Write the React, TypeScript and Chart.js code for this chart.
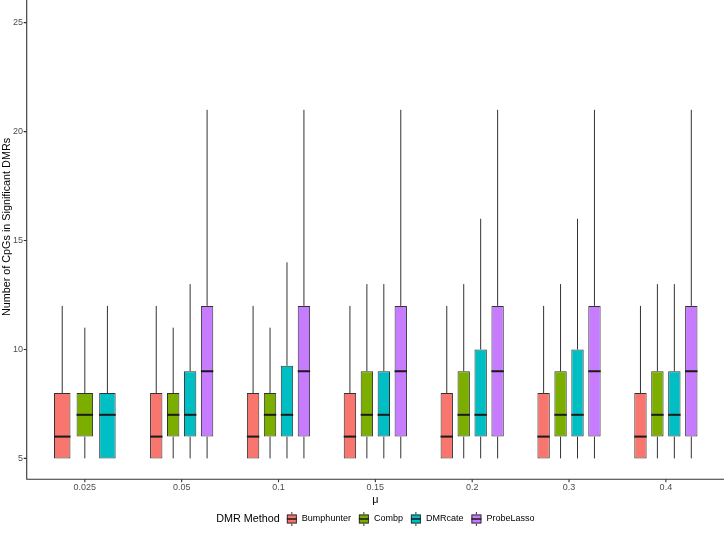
import React, { useEffect, useRef } from 'react';
import { Chart, registerables } from 'chart.js';

Chart.register(...registerables);

const FONT = '"Liberation Sans", Arial, Helvetica, sans-serif';
const INK = '#333333';

const categories = ['0.025', '0.05', '0.1', '0.15', '0.2', '0.3', '0.4'];
const methods = ['Bumphunter', 'Combp', 'DMRcate', 'ProbeLasso'];
const methodColors = ['#F8766D', '#7CAE00', '#00BFC4', '#C77CFF'];

// each entry: [lower whisker, Q1, median, Q3, upper whisker]
const bumphunter: (number[] | null)[] = [
  [5, 5, 6, 8, 12], [5, 5, 6, 8, 12], [5, 5, 6, 8, 12], [5, 5, 6, 8, 12],
  [5, 5, 6, 8, 12], [5, 5, 6, 8, 12], [5, 5, 6, 8, 12],
];
const combp: (number[] | null)[] = [
  [5, 6, 7, 8, 11], [5, 6, 7, 8, 11], [5, 6, 7, 8, 11], [5, 6, 7, 9, 13],
  [5, 6, 7, 9, 13], [5, 6, 7, 9, 13], [5, 6, 7, 9, 13],
];
const dmrcate: (number[] | null)[] = [
  [5, 5, 7, 8, 12], [5, 6, 7, 9, 13], [5, 6, 7, 9.25, 14], [5, 6, 7, 9, 13],
  [5, 6, 7, 10, 16], [5, 6, 7, 10, 16], [5, 6, 7, 9, 13],
];
const probeLasso: (number[] | null)[] = [
  null, [5, 6, 9, 12, 21], [5, 6, 9, 12, 21], [5, 6, 9, 12, 21],
  [5, 6, 9, 12, 21], [5, 6, 9, 12, 21], [5, 6, 9, 12, 21],
];
const seriesStats = [bumphunter, combp, dmrcate, probeLasso];

const yTicks = [5, 10, 15, 20, 25];
const yTitle = 'Number of CpGs in Significant DMRs';
const xTitle = 'μ';
const legendTitle = 'DMR Method';

const ggPlugin = {
  id: 'ggBoxplot',
  beforeDatasetsDraw(chart: any) {
    const { ctx } = chart;
    const y = chart.scales.y;
    ctx.save();
    ctx.strokeStyle = INK;
    ctx.lineWidth = 1;
    chart.data.datasets.forEach((ds: any, di: number) => {
      const meta = chart.getDatasetMeta(di);
      ds.stats.forEach((s: number[] | null, i: number) => {
        if (!s) return;
        const el = meta.data[i];
        if (!el) return;
        const px = el.x;
        ctx.beginPath();
        ctx.moveTo(px, y.getPixelForValue(s[4]));
        ctx.lineTo(px, y.getPixelForValue(s[3]));
        ctx.moveTo(px, y.getPixelForValue(s[1]));
        ctx.lineTo(px, y.getPixelForValue(s[0]));
        ctx.stroke();
      });
    });
    ctx.restore();
  },
  afterDatasetsDraw(chart: any) {
    const { ctx } = chart;
    const y = chart.scales.y;
    ctx.save();
    ctx.strokeStyle = '#1a1a1a';
    ctx.lineWidth = 2;
    chart.data.datasets.forEach((ds: any, di: number) => {
      const meta = chart.getDatasetMeta(di);
      ds.stats.forEach((s: number[] | null, i: number) => {
        if (!s) return;
        const el = meta.data[i];
        if (!el) return;
        const py = y.getPixelForValue(s[2]);
        ctx.beginPath();
        ctx.moveTo(el.x - el.width / 2, py);
        ctx.lineTo(el.x + el.width / 2, py);
        ctx.stroke();
      });
    });
    ctx.restore();
  },
  afterDraw(chart: any) {
    const { ctx, chartArea } = chart;
    const x = chart.scales.x;
    const y = chart.scales.y;
    const unit = x.getPixelForValue(1) - x.getPixelForValue(0);
    const L = chartArea.left - 0.1 * unit;
    const R = chartArea.right + 0.1 * unit;
    const B = chartArea.bottom;
    ctx.save();
    ctx.strokeStyle = INK;
    ctx.lineWidth = 1.1;
    ctx.beginPath();
    ctx.moveTo(L, 0);
    ctx.lineTo(L, B);
    ctx.lineTo(R, B);
    ctx.stroke();
    ctx.beginPath();
    yTicks.forEach((v) => {
      const py = y.getPixelForValue(v);
      ctx.moveTo(L - 3, py);
      ctx.lineTo(L, py);
    });
    categories.forEach((_, i) => {
      const px = x.getPixelForValue(i);
      ctx.moveTo(px, B);
      ctx.lineTo(px, B + 3);
    });
    ctx.stroke();

    // axis titles
    ctx.fillStyle = '#000000';
    ctx.font = `10.8px ${FONT}`;
    ctx.textAlign = 'center';
    ctx.textBaseline = 'middle';
    ctx.fillText(xTitle, (L + R) / 2, 500);
    ctx.save();
    ctx.translate(7, 227);
    ctx.rotate(-Math.PI / 2);
    ctx.fillText(yTitle, 0, 0);
    ctx.restore();

    // legend
    const ly = 519;
    ctx.font = `10.8px ${FONT}`;
    const titleW = ctx.measureText(legendTitle).width;
    ctx.font = `9px ${FONT}`;
    const labelWs = methods.map((m) => ctx.measureText(m).width);
    const keyW = 10, g1 = 7, g2 = 5, g3 = 8;
    let total = titleW + g1;
    labelWs.forEach((w, i) => { total += keyW + g2 + w + (i < labelWs.length - 1 ? g3 : 0); });
    let cx = (L + R) / 2 - total / 2;
    ctx.textAlign = 'left';
    ctx.font = `10.8px ${FONT}`;
    ctx.fillText(legendTitle, cx, ly);
    cx += titleW + g1;
    methods.forEach((m, i) => {
      const top = ly - 4.5, h = 9;
      ctx.strokeStyle = INK;
      ctx.lineWidth = 1;
      ctx.beginPath();
      ctx.moveTo(cx + keyW / 2, top - 2.5);
      ctx.lineTo(cx + keyW / 2, top);
      ctx.moveTo(cx + keyW / 2, top + h);
      ctx.lineTo(cx + keyW / 2, top + h + 2.5);
      ctx.stroke();
      ctx.fillStyle = methodColors[i];
      ctx.fillRect(cx, top, keyW, h);
      ctx.strokeRect(cx + 0.5, top + 0.5, keyW - 1, h - 1);
      ctx.beginPath();
      ctx.lineWidth = 1.5;
      ctx.strokeStyle = '#1a1a1a';
      ctx.moveTo(cx, ly);
      ctx.lineTo(cx + keyW, ly);
      ctx.stroke();
      cx += keyW + g2;
      ctx.fillStyle = '#000000';
      ctx.font = `9px ${FONT}`;
      ctx.fillText(m, cx, ly);
      cx += labelWs[i] + g3;
    });
    ctx.restore();
  },
};

export default function App() {
  const ref = useRef<HTMLCanvasElement>(null);
  useEffect(() => {
    if (!ref.current) return;
    Chart.defaults.font.family = FONT;
    const chart = new Chart(ref.current, {
      type: 'bar',
      data: {
        labels: categories,
        datasets: methods.map((m, k) => ({
          label: m,
          data: seriesStats[k].map((s) => (s ? [s[1], s[3]] : null)),
          stats: seriesStats[k],
          backgroundColor: methodColors[k],
          borderColor: INK,
          borderWidth: 1,
          borderSkipped: false,
          categoryPercentage: 0.7,
          barPercentage: 0.73,
          skipNull: true,
        })) as any,
      },
      options: {
        responsive: false,
        animation: false,
        devicePixelRatio: 1,
        layout: { padding: { left: 0, right: 10.7, top: 0, bottom: 0 } },
        plugins: { legend: { display: false }, tooltip: { enabled: false } },
        scales: {
          x: {
            type: 'category',
            offset: true,
            grid: { display: false, drawTicks: false },
            border: { display: false },
            ticks: { color: '#4d4d4d', font: { size: 9, family: FONT }, padding: 3, maxRotation: 0, autoSkip: false },
            afterFit(s: any) { s.height = 56.7; s.paddingLeft = 0; s.paddingRight = 0; },
          },
          y: {
            type: 'linear',
            min: 4.04,
            max: 26.04,
            grid: { display: false, drawTicks: false },
            border: { display: false },
            ticks: { color: '#4d4d4d', font: { size: 9, family: FONT }, padding: 13.4 },
            afterBuildTicks(s: any) { s.ticks = yTicks.map((v) => ({ value: v })); },
            afterFit(s: any) { s.width = 36.4; s.paddingTop = 0; s.paddingBottom = 0; },
          },
        },
      } as any,
      plugins: [ggPlugin],
    });
    return () => chart.destroy();
  }, []);
  return (
    <div style={{ position: 'fixed', left: 0, top: 0, width: 725, height: 536, background: '#ffffff' }}>
      <canvas ref={ref} width={725} height={536} style={{ display: 'block', width: 725, height: 536 }} />
    </div>
  );
}
